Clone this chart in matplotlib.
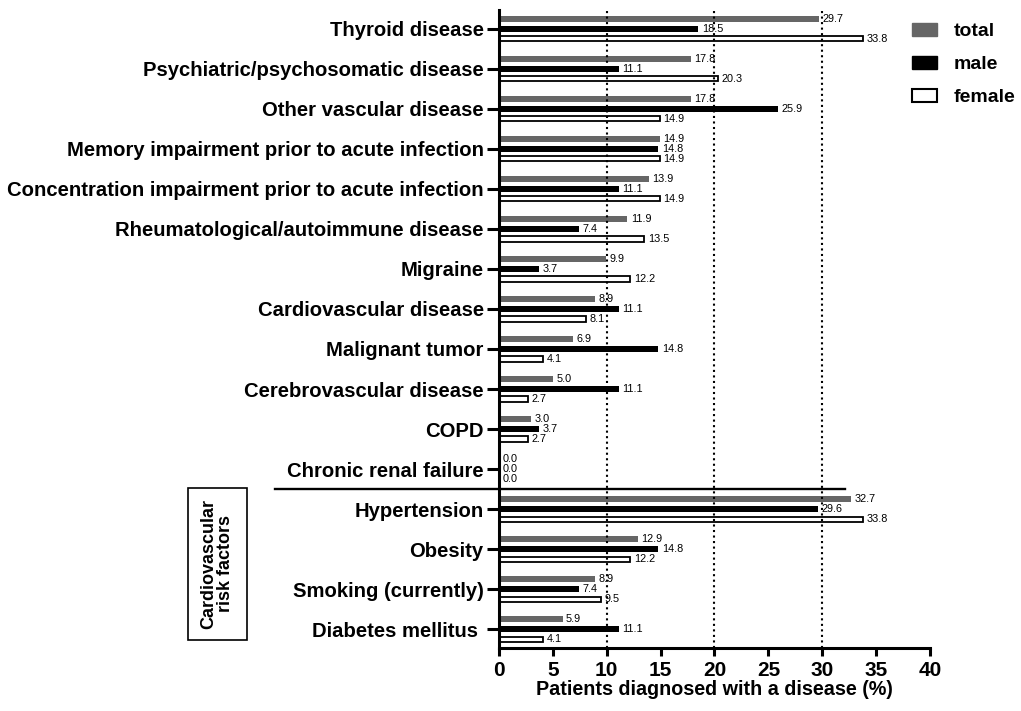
import matplotlib
matplotlib.use('Agg')
import matplotlib.pyplot as plt
import matplotlib.patches as mpatches
import numpy as np

plt.rcParams['font.family'] = ['Liberation Sans', 'DejaVu Sans']

categories = [
    'Thyroid disease',
    'Psychiatric/psychosomatic disease',
    'Other vascular disease',
    'Memory impairment prior to acute infection',
    'Concentration impairment prior to acute infection',
    'Rheumatological/autoimmune disease',
    'Migraine',
    'Cardiovascular disease',
    'Malignant tumor',
    'Cerebrovascular disease',
    'COPD',
    'Chronic renal failure',
    'Hypertension',
    'Obesity',
    'Smoking (currently)',
    'Diabetes mellitus ',
]
total  = [29.7, 17.8, 17.8, 14.9, 13.9, 11.9, 9.9, 8.9, 6.9, 5.0, 3.0, 0.0, 32.7, 12.9, 8.9, 5.9]
male   = [18.5, 11.1, 25.9, 14.8, 11.1, 7.4, 3.7, 11.1, 14.8, 11.1, 3.7, 0.0, 29.6, 14.8, 7.4, 11.1]
female = [33.8, 20.3, 14.9, 14.9, 14.9, 13.5, 12.2, 8.1, 4.1, 2.7, 2.7, 0.0, 33.8, 12.2, 9.5, 4.1]
xticks = [0, 5, 10, 15, 20, 25, 30, 35, 40]
gridlines = [10, 20, 30]

fig = plt.figure(figsize=(10.21, 7.11), dpi=100)
ax = fig.add_axes([0.4887, 0.0886, 0.4222, 0.8974])

y = np.arange(len(categories))
step = 0.25
h = 0.16

ax.barh(y - step, total, height=h, color='#666666', zorder=2)
ax.barh(y, male, height=h, color='black', zorder=2)
ax.barh(y + step, female, height=h - 0.03, color='white', edgecolor='black', lw=1.3, zorder=2)

for series, off in ((total, -step), (male, 0), (female, step)):
    for yi, v in zip(y, series):
        ax.annotate(f'{v:.1f}', (v, yi + off), xytext=(2.5, 0), textcoords='offset points',
                    ha='left', va='center', fontsize=7.8, zorder=4)

for g in gridlines:
    ax.axvline(g, ls=':', color='black', lw=1.5, zorder=3)

# separator between diseases and risk factors
ax.plot([-20.8, 32.1], [11.5, 11.5], color='black', lw=1.7, clip_on=False)

ax.set_xlim(0, 40)
ax.set_ylim(15.47, -0.47)
ax.set_yticks(y)
ax.set_yticklabels(categories, fontsize=14.6, fontweight='bold')
ax.set_xticks(xticks)
ax.set_xticklabels([str(t) for t in xticks], fontsize=15, fontweight='bold')
ax.set_xlabel('Patients diagnosed with a disease (%)', fontsize=14.2, fontweight='bold', labelpad=0)

for s in ('top', 'right'):
    ax.spines[s].set_visible(False)
for s in ('left', 'bottom'):
    ax.spines[s].set_linewidth(2.2)
ax.tick_params(axis='y', length=9, width=2.2, pad=2)
ax.tick_params(axis='x', length=6, width=2.2, pad=3)

# legend
handles = [
    mpatches.Patch(facecolor='#666666', edgecolor='#666666', label='total'),
    mpatches.Patch(facecolor='black', edgecolor='black', label='male'),
    mpatches.Patch(facecolor='white', edgecolor='black', lw=1.5, label='female'),
]
leg = fig.legend(handles=handles, loc='upper left', bbox_to_anchor=(912 / 1021, 1 - 23 / 711),
                 frameon=False, borderpad=0, borderaxespad=0,
                 handlelength=1.3, handleheight=0.65, handletextpad=0.85,
                 labelspacing=0.8, prop={'size': 14, 'weight': 'bold'})

# risk factor box
fig.patches.append(mpatches.Rectangle((188 / 1021, 1 - 640 / 711), 59 / 1021, 152 / 711,
                                      transform=fig.transFigure, fill=False,
                                      edgecolor='black', lw=1.2))
fig.text(217.5 / 1021, 1 - 564 / 711, 'Cardiovascular\nrisk factors', rotation=90,
         ha='center', va='center', fontsize=13, fontweight='bold', linespacing=1.0)

fig.savefig('out.png', dpi=100)
